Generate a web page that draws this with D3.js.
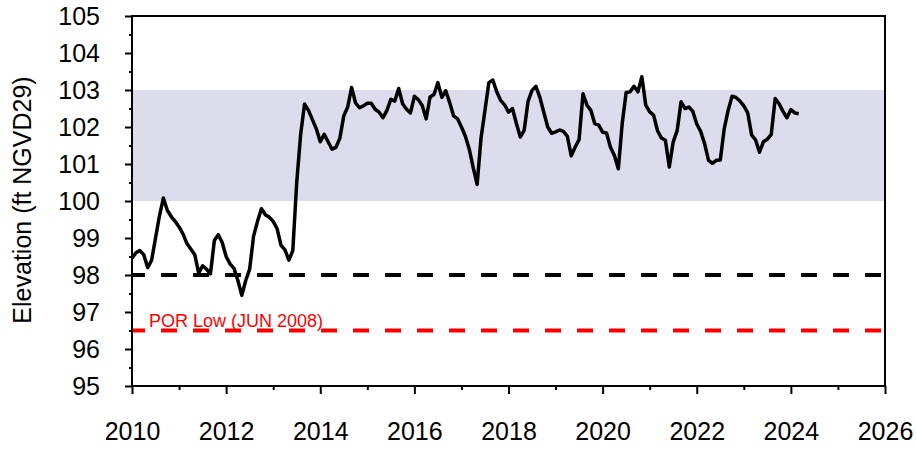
<!DOCTYPE html>
<html>
<head>
<meta charset="utf-8">
<script src="https://cdn.jsdelivr.net/npm/d3@7"></script>
<style>
  body { margin: 0; background: #fff; }
  svg { display: block; font-family: "Liberation Sans", Arial, sans-serif; }
  .axis path { display: none; }
  .axis line { stroke: #000; stroke-width: 2; }
  .axis text { font-size: 25px; fill: #000; }
</style>
</head>
<body>
<div id="chart"></div>
<script>

// monthly lake stage, first value = Jan 2010
var startYear = 2010;
var elevation = [
	98.45, 98.6, 98.66, 98.55, 98.2, 98.4, 99.0, 99.6, 100.08, 99.75, 99.58, 99.45,
	99.3, 99.11, 98.85, 98.7, 98.55, 98.05, 98.25, 98.16, 98.03, 98.93, 99.09, 98.88,
	98.5, 98.3, 98.18, 97.85, 97.45, 97.85, 98.16, 99.05, 99.45, 99.79, 99.63, 99.56,
	99.45, 99.25, 98.8, 98.68, 98.4, 98.66, 100.5, 101.8, 102.62, 102.45, 102.2, 101.95,
	101.6, 101.8, 101.6, 101.4, 101.45, 101.7, 102.3, 102.54, 103.07, 102.65, 102.52, 102.57,
	102.64, 102.64, 102.48, 102.4, 102.25, 102.45, 102.75, 102.7, 103.04, 102.63, 102.48, 102.38,
	102.83, 102.74, 102.58, 102.22, 102.81, 102.88, 103.2, 102.8, 102.98, 102.66, 102.3, 102.22,
	102.0, 101.75, 101.4, 100.9, 100.45, 101.7, 102.45, 103.2, 103.27, 102.95, 102.72, 102.6,
	102.4, 102.5, 102.1, 101.73, 101.91, 102.7, 102.99, 103.1, 102.8, 102.4, 102.0, 101.83,
	101.87, 101.92, 101.88, 101.75, 101.22, 101.46, 101.66, 102.9, 102.59, 102.45, 102.09, 102.05,
	101.86, 101.84, 101.45, 101.23, 100.87, 102.1, 102.93, 102.95, 103.1, 102.95, 103.36, 102.59,
	102.41, 102.32, 101.9, 101.7, 101.64, 100.92, 101.6, 101.9, 102.68, 102.5, 102.54, 102.42,
	102.08, 101.88, 101.55, 101.1, 101.02, 101.1, 101.11, 101.95, 102.45, 102.83, 102.8, 102.7,
	102.57, 102.38, 101.78, 101.65, 101.32, 101.6, 101.67, 101.8, 102.77, 102.63, 102.42, 102.25,
	102.47, 102.38, 102.36
];

var yTicks = [95, 96, 97, 98, 99, 100, 101, 102, 103, 104, 105];
var xTicks = [2010, 2012, 2014, 2016, 2018, 2020, 2022, 2024, 2026];
var bandRange = [100, 103];
var minLevel = 98;
var porLow = 96.5;
var porLabel = "POR Low (JUN 2008)";
var yLabel = "Elevation (ft NGVD29)";

var W = 917, H = 449;
var margin = { top: 16, right: 32, bottom: 63, left: 132 };
var width = W - margin.left - margin.right,
	height = H - margin.top - margin.bottom;

var svg = d3.select("#chart").append("svg")
		.attr("width", W)
		.attr("height", H)
	.append("g")
		.attr("transform", "translate(" + margin.left + "," + margin.top + ")");

var x = d3.scaleLinear().domain([2010, 2026]).range([0, width]);
var y = d3.scaleLinear().domain([95, 105]).range([height, 0]);

var data = elevation.map(function(v, i) {
	return { t: startYear + i / 12, v: v };
});

// shaded operating band
svg.append("rect")
	.attr("x", 0)
	.attr("width", width)
	.attr("y", y(bandRange[1]))
	.attr("height", y(bandRange[0]) - y(bandRange[1]))
	.attr("fill", "#dcdcec");

// reference lines
svg.append("line")
	.attr("x1", 0).attr("x2", width)
	.attr("y1", y(minLevel)).attr("y2", y(minLevel))
	.attr("stroke", "#000")
	.attr("stroke-width", 4)
	.attr("stroke-dasharray", "16,16")
	.attr("stroke-dashoffset", 3);

svg.append("line")
	.attr("x1", 0).attr("x2", width)
	.attr("y1", y(porLow)).attr("y2", y(porLow))
	.attr("stroke", "#ff0000")
	.attr("stroke-width", 4)
	.attr("stroke-dasharray", "16,16")
	.attr("stroke-dashoffset", 3);

svg.append("text")
	.attr("x", 17)
	.attr("y", y(porLow) - 4)
	.attr("fill", "#ff0000")
	.attr("font-size", 18)
	.text(porLabel);

// stage line
var line = d3.line()
	.x(function(d) { return x(d.t); })
	.y(function(d) { return y(d.v); });

svg.append("path")
	.datum(data)
	.attr("fill", "none")
	.attr("stroke", "#000")
	.attr("stroke-width", 3.5)
	.attr("stroke-linejoin", "round")
	.attr("d", line);

// frame
svg.append("rect")
	.attr("width", width)
	.attr("height", height)
	.attr("fill", "none")
	.attr("stroke", "#000")
	.attr("stroke-width", 2);

// axes
var yMinor = d3.range(95.5, 105, 1);
svg.append("g")
	.attr("class", "axis")
	.call(d3.axisLeft(y).tickValues(yMinor).tickSize(3).tickFormat(""));
svg.append("g")
	.attr("class", "axis")
	.call(d3.axisLeft(y).tickValues(yTicks).tickSize(7).tickPadding(25).tickFormat(d3.format("d")));

var xMinor = d3.range(2011, 2026, 2);
svg.append("g")
	.attr("class", "axis")
	.attr("transform", "translate(0," + height + ")")
	.call(d3.axisBottom(x).tickValues(xMinor).tickSize(4).tickFormat(""));
svg.append("g")
	.attr("class", "axis")
	.attr("transform", "translate(0," + height + ")")
	.call(d3.axisBottom(x).tickValues(xTicks).tickSize(8).tickPadding(28).tickFormat(d3.format("d")));

svg.append("text")
	.attr("transform", "translate(" + (31 - margin.left) + "," + (200 - margin.top) + ") rotate(-90)")
	.attr("text-anchor", "middle")
	.attr("font-size", 25)
	.text(yLabel);

</script>
</body>
</html>
